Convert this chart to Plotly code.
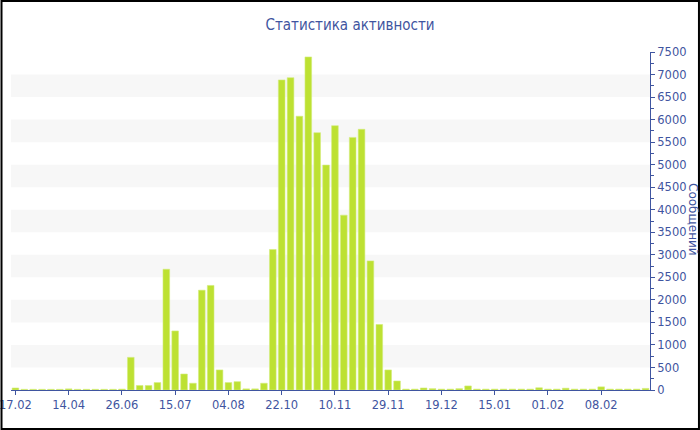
import plotly.graph_objects as go

# ---- data ----
tick_labels = ["17.02", "14.04", "26.06", "15.07", "04.08", "22.10",
               "10.11", "29.11", "19.12", "15.01", "01.02", "08.02"]
messages = [45, 15, 15, 15, 15, 15, 25, 15, 15, 15, 15, 15,
            20, 724, 100, 100, 165, 2680, 1310, 355, 150, 2215, 2320, 445,
            165, 185, 25, 25, 150, 3118, 6880, 6930, 6075, 7390, 5710, 4990,
            5865, 3880, 5605, 5785, 2865, 1455, 445, 200, 20, 20, 45, 30,
            20, 20, 30, 90, 20, 20, 20, 20, 20, 20, 20, 50, 20, 20,
            40, 20, 20, 20, 70, 20, 20, 20, 20, 35]
label_step = 6
band_edges = [(500, 1000), (1500, 2000), (2500, 3000), (3500, 4000),
              (4500, 5000), (5500, 6000), (6500, 7000)]

positions = list(range(len(messages)))
tick_positions = positions[::label_step]

W, H = 700, 430
ML, MR, MT, MB = 10.5, 50, 52, 40
pw, ph = W - ML - MR, H - MT - MB

blue = "#3f55a0"

fig = go.Figure()
fig.add_trace(go.Bar(
    x=positions, y=messages,
    marker=dict(color="#bde132", line=dict(color="#d4ec7e", width=0.6)),
    hovertemplate="%{y}<extra></extra>",
))

shapes = []
for lo, hi in band_edges:
    shapes.append(dict(type="rect", xref="paper", yref="y", x0=0, x1=1,
                       y0=lo, y1=hi, fillcolor="#f7f7f7", line=dict(width=0),
                       layer="below"))
# outer border
shapes.append(dict(type="rect", xref="paper", yref="paper",
                   x0=(1 - ML) / pw, x1=(W - 1 - ML) / pw,
                   y0=(1 - MB) / ph, y1=(H - 1 - MB) / ph,
                   line=dict(color="black", width=2), fillcolor="rgba(0,0,0,0)"))

fig.update_layout(
    width=W, height=H,
    margin=dict(l=ML, r=MR, t=MT, b=MB, pad=0, autoexpand=False),
    paper_bgcolor="white", plot_bgcolor="white",
    showlegend=False,
    bargap=0.25,
    title=dict(text="Статистика активности", x=0.5, xref="container", xanchor="center",
               y=1 - 25 / H, yref="container", yanchor="middle",
               font=dict(family="DejaVu Sans Condensed, Liberation Sans",
                         size=15, color=blue)),
    font=dict(family="DejaVu Sans", size=11.5, color=blue),
    shapes=shapes,
    xaxis=dict(range=[-0.5, len(messages) - 0.5], tickmode="array",
               tickvals=tick_positions, ticktext=tick_labels,
               ticklabeloverflow="allow", automargin=False,
               showline=True, linecolor=blue, linewidth=1,
               ticks="outside", ticklen=4, tickcolor=blue,
               showgrid=False, zeroline=False,
               tickfont=dict(family="DejaVu Sans", size=11.5, color=blue)),
    yaxis=dict(side="right", range=[0, 7500], dtick=500, tick0=0,
               automargin=False,
               showline=True, linecolor=blue, linewidth=1,
               ticks="outside", ticklen=4, tickcolor=blue,
               minor=dict(dtick=250, ticks="outside", ticklen=3, tickcolor=blue,
                          showgrid=False),
               showgrid=False, zeroline=False,
               tickfont=dict(family="DejaVu Sans", size=11.5, color=blue)),
    annotations=[dict(text="Сообщений", xref="paper", yref="paper",
                      x=(693 - ML) / pw, y=(H - MB - 220) / ph,
                      xanchor="center", yanchor="middle", showarrow=False,
                      textangle=90,
                      font=dict(family="DejaVu Sans", size=12, color=blue))],
)

fig.write_html("out.html", config={"displayModeBar": False},
               post_script="document.body.style.margin='0';")
